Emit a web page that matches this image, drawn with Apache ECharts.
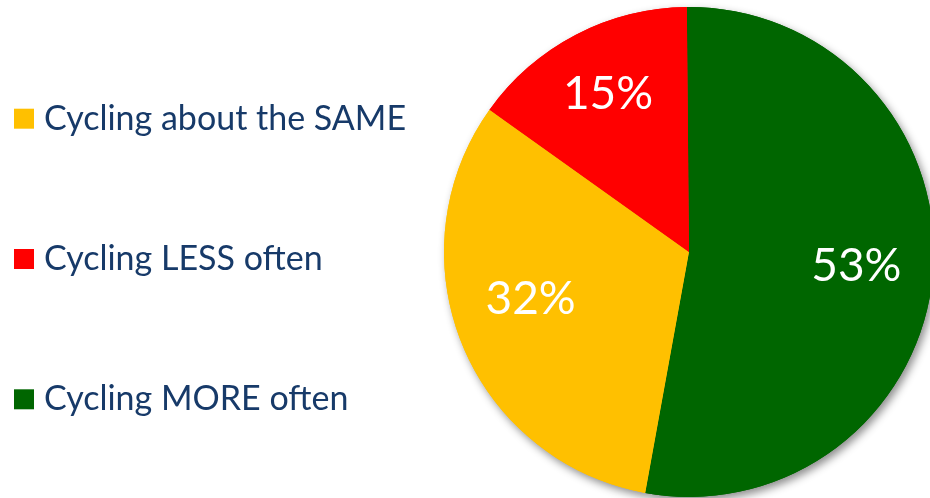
<!DOCTYPE html>
<html>
<head>
<meta charset="utf-8">
<script src="https://cdn.jsdelivr.net/npm/echarts@6/dist/echarts.min.js"></script>
<style>html,body{margin:0;padding:0;background:#fff}#c{width:930px;height:498px}</style>
</head>
<body>
<div id="c"></div>
<script>
const categories = ["Cycling MORE often", "Cycling about the SAME", "Cycling LESS often"];
const values = [53, 32, 15];
const colors = ["#006600", "#FFC000", "#FF0000"];
const legendOrder = ["Cycling about the SAME", "Cycling LESS often", "Cycling MORE often"];
const labelNudge = [[-3, 0], [0, -17], [-2, -6]];

const chart = echarts.init(document.getElementById('c'));
const common = { type: 'pie', center: [689, 252], startAngle: 90.5, clockwise: true, emphasis: { disabled: true }, labelLine: { show: false } };
chart.setOption({
  animation: false,
  legend: {
    data: legendOrder,
    orient: 'vertical',
    left: 14,
    top: 101.7,
    padding: 0,
    itemWidth: 20,
    itemHeight: 20,
    itemGap: 106.3,
    icon: 'rect',
    textStyle: { fontFamily: 'Lato', fontSize: 34, lineHeight: 34, color: '#173A69', padding: [0, 0, 0, 5] }
  },
  series: [
    Object.assign({}, common, {
      radius: [0, 245],
      silent: true,
      data: categories.map((n, i) => ({ name: n, value: values[i], itemStyle: { color: colors[i] } })),
      label: { show: false },
      itemStyle: { shadowBlur: 8, shadowOffsetX: 3, shadowOffsetY: 4, shadowColor: 'rgba(0,0,0,0.45)' }
    }),
    Object.assign({}, common, {
      radius: [0, 245],
      silent: true,
      data: categories.map((n, i) => ({ name: n, value: values[i], itemStyle: { color: colors[i] } })),
      label: { show: false }
    }),
    Object.assign({}, common, {
      radius: [91, 245],
      silent: true,
      data: categories.map((n, i) => ({ name: n, value: values[i], label: { offset: labelNudge[i] } })),
      itemStyle: { color: 'rgba(0,0,0,0)' },
      label: {
        show: true,
        position: 'inside',
        formatter: '{c}%',
        color: '#fff',
        fontFamily: 'Lato',
        fontSize: 46
      }
    })
  ]
});
</script>
</body>
</html>
